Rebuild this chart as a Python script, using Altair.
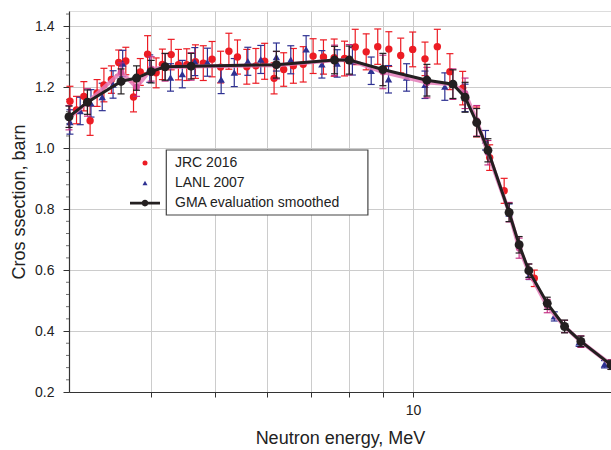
import altair as alt
import pandas as pd

# ---------------- data ----------------
gma_E = [3.0, 3.2, 3.6, 3.8, 4.0, 4.2, 4.6, 6.2, 7.6, 8.0, 9.0, 10.5, 11.5, 12.0,
         12.5, 13.0, 14.0, 14.5, 15.0, 16.0, 17.0, 18.0, 20.0]
gma_v = [1.103, 1.151, 1.219, 1.230, 1.251, 1.267, 1.269, 1.274, 1.289, 1.289, 1.258,
         1.223, 1.210, 1.167, 1.084, 0.993, 0.789, 0.683, 0.598, 0.491, 0.415, 0.366, 0.289]
gma_err = [0.035, 0.040, 0.041, 0.040, 0.037, 0.044, 0.042, 0.044, 0.045, 0.046, 0.053,
           0.052, 0.047, 0.049, 0.046, 0.038, 0.030, 0.027, 0.022, 0.020, 0.021, 0.017, 0.015]

pink_v = [1.100, 1.150, 1.250, 1.200, 1.260, 1.265, 1.268, 1.272, 1.288, 1.290, 1.250,
          1.215, 1.210, 1.180, 1.090, 0.985, 0.790, 0.672, 0.595, 0.482, 0.415, 0.365, 0.290]
pink_err = [0.040, 0.045, 0.030, 0.030, 0.040, 0.045, 0.045, 0.045, 0.050, 0.050, 0.055,
            0.050, 0.050, 0.050, 0.050, 0.040, 0.032, 0.033, 0.025, 0.022, 0.020, 0.019, 0.016]

jrc_E = [3.01, 3.08, 3.16, 3.23, 3.31, 3.39, 3.48, 3.57, 3.66, 3.76, 3.85, 3.95, 4.07,
         4.16, 4.29, 4.40, 4.53, 4.67, 4.80, 4.95, 5.10, 5.25, 5.41, 5.59, 5.77, 5.95,
         6.15, 6.36, 6.58, 6.81, 7.05, 7.31, 7.59, 7.87, 8.17, 8.49, 8.84, 9.19, 9.58,
         9.99, 10.43, 10.89, 11.38, 11.90, 12.49, 13.08, 13.76, 15.29]
jrc_v = [1.154, 1.125, 1.170, 1.090, 1.181, 1.207, 1.225, 1.281, 1.286, 1.168, 1.250,
         1.308, 1.247, 1.275, 1.307, 1.274, 1.274, 1.284, 1.279, 1.292, 1.266, 1.318,
         1.299, 1.267, 1.270, 1.285, 1.229, 1.258, 1.270, 1.275, 1.302, 1.299, 1.297,
         1.294, 1.332, 1.316, 1.333, 1.325, 1.304, 1.324, 1.293, 1.333, 1.251, 1.197,
         1.086, 0.969, 0.860, 0.573]
jrc_err = [0.049, 0.045, 0.048, 0.048, 0.044, 0.055, 0.045, 0.041, 0.045, 0.049, 0.044,
           0.061, 0.049, 0.050, 0.050, 0.050, 0.052, 0.055, 0.057, 0.058, 0.052, 0.059,
           0.056, 0.057, 0.057, 0.059, 0.051, 0.055, 0.057, 0.058, 0.057, 0.056, 0.061,
           0.057, 0.058, 0.059, 0.058, 0.057, 0.057, 0.057, 0.055, 0.057, 0.059, 0.055,
           0.049, 0.042, 0.041, 0.027]

lanl_E = [3.01, 3.12, 3.24, 3.37, 3.50, 3.62, 3.98, 4.28, 4.46, 4.66, 4.87, 5.11, 5.35,
          5.61, 5.87, 6.20, 6.52, 6.88, 7.27, 7.67, 8.09, 8.64, 9.18, 9.78, 10.43, 11.18,
          12.0, 12.89, 14.0, 15.03, 16.40, 17.89, 19.55]
lanl_v = [1.086, 1.122, 1.147, 1.168, 1.209, 1.278, 1.261, 1.232, 1.243, 1.284, 1.282,
          1.225, 1.248, 1.285, 1.291, 1.299, 1.290, 1.324, 1.275, 1.278, 1.285, 1.254,
          1.226, 1.232, 1.208, 1.202, 1.165, 1.026, 0.797, 0.584, 0.448, 0.363, 0.291]
lanl_err = [0.040, 0.045, 0.045, 0.045, 0.045, 0.043, 0.045, 0.045, 0.045, 0.046, 0.046,
            0.046, 0.046, 0.046, 0.046, 0.046, 0.046, 0.045, 0.045, 0.045, 0.045, 0.045,
            0.045, 0.045, 0.045, 0.045, 0.045, 0.032, 0.020, 0.015, 0.015, 0.013, 0.012]

series_names = ["JRC 2016", "LANL 2007", "GMA evaluation smoothed"]
series_colors = ["#EC1C24", "#2E3192", "#231F20"]
gma_symbol = ("M-6,-0.55 L6,-0.55 L6,0.55 L-6,0.55 Z "
              "M1.35,0 A1.35,1.35 0 1,1 -1.35,0 A1.35,1.35 0 1,1 1.35,0 Z")
series_shapes = ["circle", "triangle-up", gma_symbol]

x_ticks = [4, 5, 6, 7, 8, 9, 10]
y_major = [0.2, 0.4, 0.6, 0.8, 1.0, 1.2, 1.4]
y_minor = [round(0.2 + 0.04 * i, 2) for i in range(32) if i % 5 != 0]

# ---------------- tables ----------------
def table(name, E, v, err):
    return pd.DataFrame({"series": name, "E": E, "v": v, "err": err})

jrc_df = table(series_names[0], jrc_E, jrc_v, jrc_err)
lanl_df = table(series_names[1], lanl_E, lanl_v, lanl_err)
exp_df = pd.concat([jrc_df, lanl_df], ignore_index=True)
gma_df = table(series_names[2], gma_E, gma_v, gma_err)
pink_df = table("GMA evaluation", gma_E, pink_v, pink_err)
minor_df = pd.DataFrame({"yy": y_minor})

FONT = "Liberation Sans"

xscale = alt.Scale(type="log", domain=[3, 20], nice=False)
yscale = alt.Scale(domain=[0.2, 1.45], nice=False, zero=False)

x_axis = alt.Axis(values=x_ticks, labelExpr="datum.value == 10 ? '10' : ''",
                  grid=True, gridColor="#cccccc", gridWidth=1,
                  tickColor="#333333", tickSize=5, domainColor="#333333", domainWidth=1.2,
                  labelFontSize=14, labelColor="#222222", labelFont=FONT, labelPadding=6,
                  labelOverlap=False,
                  title="Neutron energy, MeV", titleFontSize=18, titleFont=FONT,
                  titleFontWeight="normal", titleColor="#222222", titlePadding=12)
y_axis = alt.Axis(values=y_major, format=".1f", labelOverlap=False,
                  grid=True, gridColor="#cccccc", gridWidth=1,
                  tickSize=6, tickColor="#333333", domainColor="#333333", domainWidth=1.2,
                  labelFontSize=14, labelColor="#222222", labelFont=FONT, labelPadding=9,
                  title="Cros ssection, barn", titleFontSize=18, titleFont=FONT,
                  titleFontWeight="normal", titleColor="#222222", titlePadding=6)


def X(field="E"):
    return alt.X(f"{field}:Q", scale=xscale, axis=x_axis)


def Y(field="v"):
    return alt.Y(f"{field}:Q", scale=yscale, axis=y_axis)


color_scale = alt.Scale(domain=series_names, range=series_colors)
shape_scale = alt.Scale(domain=series_names, range=series_shapes)

legend = alt.Legend(orient="none", legendX=69, legendY=145, title=None, padding=0,
                    labelFontSize=14, labelFont=FONT, labelColor="#222222",
                    labelOffset=23, labelLimit=0, symbolSize=25, rowPadding=6)

# legend frame (decoration)
frame = alt.Chart(pd.DataFrame({"k": [0]})).mark_rect(
    fill="white", stroke="#444444", strokeWidth=1.2
).encode(x=alt.value(97.3), x2=alt.value(298.9), y=alt.value(139), y2=alt.value(204))

# minor ticks on the y axis
minor_ticks = alt.Chart(minor_df).mark_tick(
    orient="horizontal", size=3, thickness=1, color="#333333"
).encode(x=alt.value(-1.5), y=Y("yy"))


def bars(df, color, width=1.2):
    base = alt.Chart(df).transform_calculate(
        lo="datum.v - datum.err", hi="datum.v + datum.err")
    rule = base.mark_rule(strokeWidth=width, color=color).encode(
        x=X(), y=Y("lo"), y2="hi:Q")
    caps = base.transform_fold(["lo", "hi"], as_=["end", "yy"]).mark_tick(
        orient="horizontal", size=7, thickness=width, color=color, opacity=1
    ).encode(x=X(), y=Y("yy"))
    return rule + caps


jrc_bars = bars(jrc_df, series_colors[0])
lanl_bars = bars(lanl_df, series_colors[1])
exp_points = alt.Chart(exp_df).mark_point(filled=True, size=55, opacity=1).encode(
    x=X(), y=Y(),
    color=alt.Color("series:N", scale=color_scale, legend=legend),
    shape=alt.Shape("series:N", scale=shape_scale, legend=legend),
)

pink_bars = bars(pink_df, "#C0267E", width=1.1)
pink_line = alt.Chart(pink_df).mark_line(color="#E47DB8", strokeWidth=4, opacity=0.85).encode(
    x=X(), y=Y())
pink_points = alt.Chart(pink_df).mark_circle(color="#D04A9A", size=45, opacity=0.9).encode(
    x=X(), y=Y())

gma_bars = bars(gma_df, "#231F20", width=1.2)
gma_line = alt.Chart(gma_df).mark_line(color="#231F20", strokeWidth=3).encode(
    x=X(), y=Y())
gma_points = alt.Chart(gma_df).mark_circle(color="#231F20", size=80, opacity=1).encode(
    x=X(), y=Y())

chart = alt.layer(
    frame, minor_ticks, jrc_bars, lanl_bars, exp_points, pink_bars, pink_line, pink_points,
    gma_bars, gma_line, gma_points
).properties(
    width=542, height=381,
    padding={"left": 69, "top": 11, "right": 0, "bottom": 58},
    autosize=alt.AutoSizeParams(type="none"),
).configure_view(
    stroke="#333333", strokeWidth=1
).configure(font=FONT, background="white")

chart.save("out.html", embed_options={"renderer": "svg", "actions": False})
